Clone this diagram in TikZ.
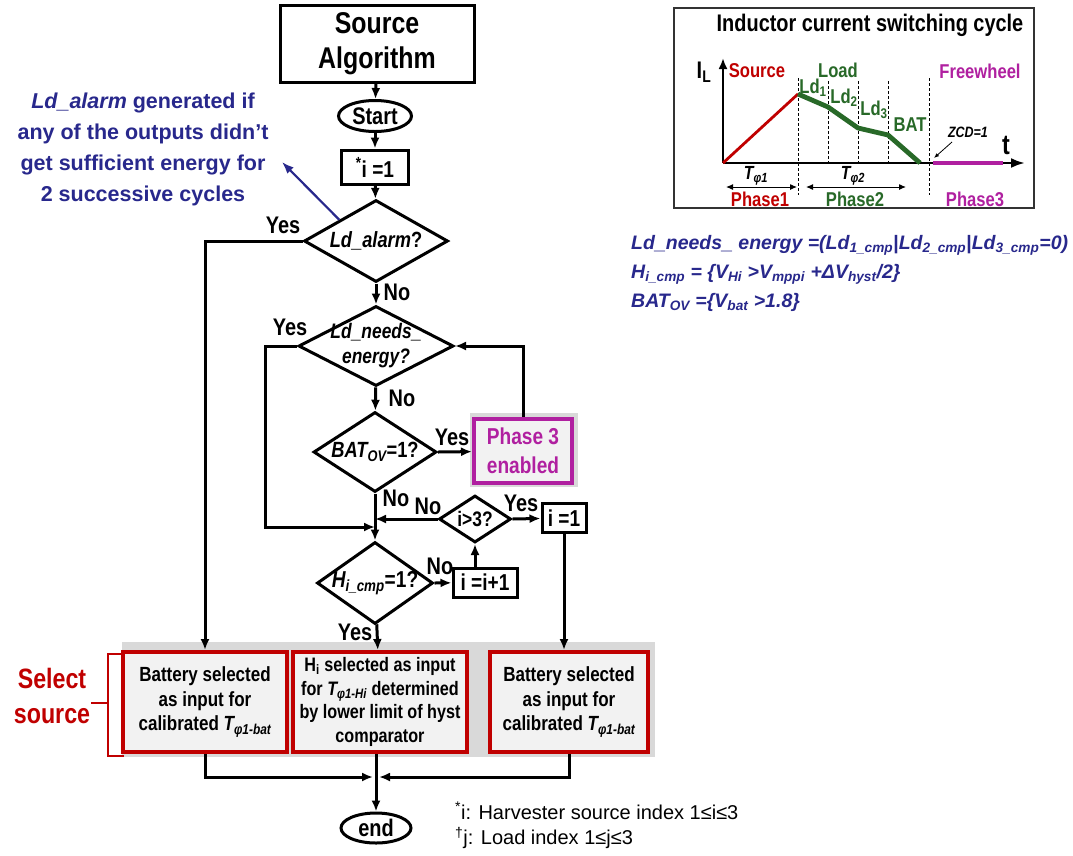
\documentclass[tikz,border=0pt]{standalone}
\usepackage{fontspec}
\setmainfont{Liberation Sans}[FakeStretch=0.83]
\newfontfamily\widefont{Liberation Sans}
\usepackage{tikz}
\usetikzlibrary{positioning, calc, shapes.geometric}
\usetikzlibrary{arrows.meta}
\definecolor{darkred}{RGB}{192,0,0}
\definecolor{phasemag}{RGB}{176,32,160}
\definecolor{loadgreen}{RGB}{40,105,40}
\definecolor{navyblue}{RGB}{40,40,140}
\definecolor{bandgray}{RGB}{217,217,217}
\definecolor{boxfill}{RGB}{242,242,242}
\tikzstyle{procbox}=[rectangle, draw=black, line width=3pt, fill=white, inner sep=0pt, align=center, font=\fontsize{23}{24}\selectfont\bfseries]
\tikzstyle{termnode}=[ellipse, draw=black, line width=3pt, inner sep=0pt]
\tikzstyle{decision}=[diamond, draw=black, line width=3pt, inner sep=0pt]
\tikzstyle{dlbl}=[inner sep=0pt, align=center, font=\fontsize{22}{24}\selectfont\bfseries]
\tikzstyle{lbl}=[inner sep=0pt, font=\fontsize{24}{24}\selectfont\bfseries]
\tikzstyle{srcbox}=[rectangle, draw=darkred, line width=4pt, fill=boxfill, inner sep=0pt, align=center, font=\fontsize{20.5}{24.5}\selectfont\bfseries]
\tikzstyle{phasebox}=[rectangle, draw=phasemag, line width=4pt, fill=boxfill, inner sep=0pt, align=center, text=phasemag, font=\fontsize{23}{29}\selectfont\bfseries]
\tikzstyle{edgepath}=[-{Latex[length=11pt,width=9pt]}, line width=3pt]
\tikzstyle{plbl}=[inner sep=0pt, font=\fontsize{20}{20}\selectfont\bfseries]
\tikzstyle{deflbl}=[inner sep=0pt, anchor=west, text=navyblue, font=\widefont\fontsize{19.5}{20}\selectfont\bfseries\itshape]

\begin{document}
\begin{tikzpicture}[x=1pt, y=-1pt]
    \fill[white] (0,0) rectangle (1073,855);
    \useasboundingbox (0,0) rectangle (1073,855);

    % flow chart
    \node[procbox, minimum width=194, minimum height=77, font=\fontsize{30}{35}\selectfont\bfseries] (src) at (377,43.5) {Source\\Algorithm};
    \node[termnode, minimum width=73, minimum height=31, label={[lbl]center:Start}] (start) at (375,116) {};
    \node[procbox, minimum width=67, minimum height=34] (init) at (375,167) {\textsuperscript{*}i =1};
    \node[decision, minimum width=144, minimum height=82, label={[dlbl]center:\textit{Ld\_alarm}?}] (alarm) at (376,241) {};
    \node[decision, minimum width=155, minimum height=80, label={[dlbl, font=\fontsize{21}{25}\selectfont\bfseries\itshape]center:{Ld\_needs\_\\energy?}}] (needs) at (376,346) {};
    \node[decision, minimum width=123, minimum height=80, label={[dlbl]center:\textit{BAT\textsubscript{OV}}=1?}] (bat) at (375,452) {};
    \node[fill=bandgray, minimum width=108, minimum height=74] (p3back) at (524,450) {};
    \node[phasebox, minimum width=98, minimum height=64] (p3) at (523,451) {Phase 3\\enabled};
    \node[decision, minimum width=72, minimum height=47, label={[dlbl, font=\fontsize{21}{21}\selectfont\bfseries]center:i>3?}] (gt) at (475,519) {};
    \node[procbox, minimum width=44, minimum height=29] (reset) at (564,518) {i =1};
    \node[decision, minimum width=116, minimum height=82, label={[dlbl, font=\fontsize{23}{24}\selectfont\bfseries]center:\textit{H\textsubscript{i\_cmp}}=1?}] (hcmp) at (375,583) {};
    \node[procbox, minimum width=64, minimum height=29] (inc) at (485,582.5) {i =i+1};

    \node[fill=bandgray, minimum width=533, minimum height=115] (band) at (388.5,699.5) {};
    \node[srcbox, minimum width=164, minimum height=100] (bat1) at (205,702) {Battery selected\\as input for\\calibrated \textit{T\textsubscript{φ1-bat}}};
    \node[srcbox, minimum width=174, minimum height=100, font=\fontsize{19.5}{23.5}\selectfont\bfseries] (hsel) at (380,702) {H\textsubscript{i} selected as input\\for \textit{T\textsubscript{φ1-Hi}} determined\\by lower limit of hyst\\comparator};
    \node[srcbox, minimum width=158, minimum height=100] (bat2) at (569,702) {Battery selected\\as input for\\calibrated \textit{T\textsubscript{φ1-bat}}};
    \node[termnode, minimum width=70, minimum height=30, label={[lbl]center:end}] (stop) at (376,828) {};

    \coordinate (leftin) at (375,527);
    \coordinate (merge) at (376,777);

    % labels
    \node[lbl] (yes1) at (283,225) {Yes};
    \node[lbl] (no1) at (397,292) {No};
    \node[lbl] (yes2) at (290,327) {Yes};
    \node[lbl] (no2) at (402,398) {No};
    \node[lbl] (yes3) at (452,437) {Yes};
    \node[lbl] (no3) at (396,498) {No};
    \node[lbl] (no4) at (428,506) {No};
    \node[lbl] (yes4) at (521,503) {Yes};
    \node[lbl] (no5) at (440,566) {No};
    \node[lbl] (yes5) at (355,632) {Yes};

    \path[edgepath]
    (src) edge (start)
    (start) edge (init)
    (init) edge (alarm)
    (alarm) edge (needs)
    (needs) edge (bat)
    (bat.east) edge (p3)
    (bat) edge (hcmp)
    (gt.west) edge (gt.west -| bat.south)
    (gt.east) edge (reset)
    (hcmp.east) edge (inc)
    (inc.north -| gt.south) edge (gt.south)
    (hcmp) edge (hsel)
    (reset.south) edge (reset.south |- bat2.north)
    (hsel.south -| stop) edge (stop);

    \draw[edgepath] (alarm.west) -| (bat1.north);
    \draw[edgepath] (needs.west) -- ++(-32,0) |- (leftin);
    \draw[edgepath] (p3.north) |- (needs.east);
    \draw[edgepath, shorten >=3pt] (bat1.south) |- (merge);
    \draw[edgepath, shorten >=3pt] (bat2.south) |- (merge);

    % alarm note
    \node[text=navyblue, align=center, font=\widefont\fontsize{21.5}{31}\selectfont\bfseries] (note) at (143,149) {\textit{Ld\_alarm} generated if\\any of the outputs didn’t\\get sufficient energy for\\2 successive cycles};
    \coordinate (notetip) at (282,162);
    \draw[-{Latex[length=12pt,width=9pt]}, navyblue, line width=2.2pt] (alarm.north west) -- (notetip);

    % select source
    \node[text=darkred, align=center, font=\fontsize{28}{35}\selectfont\bfseries] (sel) at (52,696) {Select\\source};
    \draw[darkred, line width=2.6pt] (124,654) -- (108,654) -- (108,756) -- (124,756);
    \draw[darkred, line width=2.6pt] (91,703) -- (108,703);

    % definitions
    \node[deflbl] (def1) at (631,245) {Ld\_needs\_ energy =(Ld\textsubscript{1\_cmp}\textup{|}Ld\textsubscript{2\_cmp}\textup{|}Ld\textsubscript{3\_cmp}=0)};
    \node[deflbl] (def2) at (631,274) {H\textsubscript{i\_cmp} = \{V\textsubscript{Hi} >V\textsubscript{mppi} +ΔV\textsubscript{hyst}/2\}};
    \node[deflbl] (def3) at (631,302) {BAT\textsubscript{OV} =\{V\textsubscript{bat} >1.8\}};

    % footnotes
    \node[anchor=west, inner sep=0pt, font=\widefont\fontsize{20}{20}\selectfont] (fn1) at (455,811) {\textsuperscript{*}i: Harvester source index 1≤i≤3};
    \node[anchor=west, inner sep=0pt, font=\widefont\fontsize{20}{20}\selectfont] (fn2) at (455,838) {\textsuperscript{†}j: Load index 1≤j≤3};

    % inductor current panel
    \draw[line width=1.2pt, draw=black!80] (674,8) rectangle (1034,208);
    \node[font=\fontsize{24}{24}\selectfont\bfseries] (ptitle) at (870,25) {Inductor current switching cycle};
    \draw[-{Latex[length=11pt,width=9pt]}, line width=2.6pt] (723,163) -- (723,58);
    \draw[-{Latex[length=14pt,width=10pt]}, line width=2.6pt] (723,163) -- (1025,163);
    \foreach \xx in {798,929} \draw[dashed, dash pattern=on 3pt off 2pt, line width=0.7pt] (\xx,78) -- (\xx,195);
    \foreach \xx in {828,858,888} \draw[dashed, dash pattern=on 3pt off 2pt, line width=0.7pt] (\xx,81) -- (\xx,165);
    \draw[darkred, line width=2.8pt] (723,163) -- (798,94);
    \draw[loadgreen, line width=4.8pt, line join=round] (798,94) -- (828,107) -- (858,128) -- (888,135) -- (920,163);
    \draw[phasemag, line width=4pt] (933,163) -- (1003,163);
    \node[font=\fontsize{24}{24}\selectfont\bfseries] (il) at (704,72) {I\textsubscript{L}};
    \node[font=\fontsize{28}{28}\selectfont\bfseries] (tt) at (1006,145) {t};
    \node[plbl, text=darkred] (lsrc) at (757,71) {Source};
    \node[plbl, text=loadgreen] (lload) at (838,70) {Load};
    \node[plbl, text=loadgreen] (lld1) at (813,88) {Ld\textsubscript{1}};
    \node[plbl, text=loadgreen] (lld2) at (844,98) {Ld\textsubscript{2}};
    \node[plbl, text=loadgreen] (lld3) at (874,110) {Ld\textsubscript{3}};
    \node[plbl, text=loadgreen] (lbat) at (910,125) {BAT};
    \node[plbl, text=phasemag] (lfree) at (980,71) {Freewheel};
    \node[inner sep=0pt, font=\fontsize{15}{15}\selectfont\bfseries\itshape] (zcd) at (968,132) {ZCD=1};
    \draw[-{Latex[length=5pt,width=4pt]}, line width=0.8pt] (952,142) -- (934,158);
    \node[plbl, font=\fontsize{19}{19}\selectfont\bfseries\itshape] (tp1) at (756,176) {T\textsubscript{φ1}};
    \node[plbl, font=\fontsize{19}{19}\selectfont\bfseries\itshape] (tp2) at (853,176) {T\textsubscript{φ2}};
    \draw[{Latex[length=7pt,width=6pt]}-{Latex[length=7pt,width=6pt]}, line width=1pt] (726,187) -- (797,187);
    \draw[{Latex[length=7pt,width=6pt]}-{Latex[length=7pt,width=6pt]}, line width=1pt] (806,187) -- (906,187);
    \node[plbl, text=darkred] (ph1) at (760,199) {Phase1};
    \node[plbl, text=loadgreen] (ph2) at (855,199) {Phase2};
    \node[plbl, text=phasemag] (ph3) at (975,199) {Phase3};
\end{tikzpicture}
\end{document}
